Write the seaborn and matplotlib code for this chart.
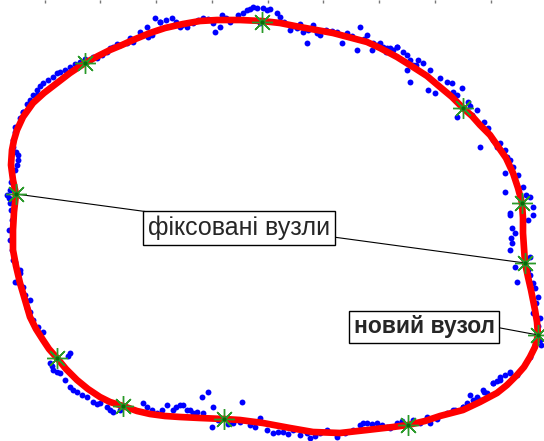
import numpy as np
import matplotlib
matplotlib.use("Agg")
import matplotlib.pyplot as plt
import seaborn as sns

# ── data (image-pixel units, y grows downward) ───────────────

# fitted closed curve, clockwise from the left knot
curve_x = [16, 13, 11, 12, 14, 17, 23, 33, 44, 57, 70, 85, 98, 110, 122,
           133, 150, 165, 183, 200, 217, 240, 262, 280, 300, 333, 367, 380,
           397, 413, 427, 440, 452, 463, 472, 480, 490, 497, 506, 513, 518,
           522, 523, 523, 525, 528, 531, 535, 537, 538, 535, 530, 524, 517,
           507, 497, 480, 463, 440, 425, 408, 393, 367, 340, 313, 290, 263,
           240, 224, 200, 180, 165, 150, 137, 123, 110, 100, 88, 77, 66, 57,
           49, 43, 36, 30, 25, 20, 16, 13, 13, 14, 16]
curve_y = [194, 180, 165, 150, 140, 130, 117, 103, 93, 83, 73, 63, 56, 50, 45,
           40, 33, 28, 24, 21, 20, 20, 21, 23, 27, 33, 42, 48,
           57, 67, 76, 87, 97, 108, 116, 125, 135, 145, 158, 173, 188,
           203, 218, 233, 263, 277, 290, 310, 322, 335, 347, 357, 367, 375,
           385, 393, 402, 410, 416, 421, 425, 427, 430, 433, 432, 428, 423,
           420, 419, 418, 417, 416, 414, 411, 406, 402, 397, 389, 380, 369, 358,
           349, 340, 329, 317, 300, 283, 266, 250, 230, 212, 194]

# knots (fixed + the new one)
knot_x = [85, 262, 463, 522, 525, 538, 408, 224, 123, 57, 16]
knot_y = [63, 22, 108, 203, 263, 335, 425, 419, 406, 358, 194]

# measured contour points
blue_pts = [
    # top
    (155, 18), (160, 22), (172, 18), (182, 25), (187, 27), (193, 23), (203, 18),
    (213, 23), (215, 32), (220, 27), (222, 15), (230, 22), (238, 15), (247, 10),
    (253, 7), (263, 8), (270, 9), (277, 13), (280, 17), (260, 23), (290, 30),
    (297, 28), (303, 32), (313, 25), (317, 33), (320, 35), (307, 43), (337, 32),
    (342, 43), (347, 33), (360, 27), (367, 35), (357, 50), (373, 43), (380, 43),
    (383, 47), (372, 50), (390, 48), (397, 47), (152, 35),
    (166, 20), (176, 22), (198, 20), (208, 19), (226, 18), (243, 13), (250, 9),
    (257, 8), (267, 10), (284, 22), (293, 26), (300, 24), (308, 30), (326, 30),
    (332, 31), (352, 36), (364, 39), (377, 45), (386, 52), (393, 50),
    # top-left
    (147, 27), (148, 37), (133, 42), (127, 43), (113, 47), (107, 52), (97, 58),
    (80, 62), (70, 67), (60, 72), (53, 77), (43, 83), (37, 90), (30, 100),
    (23, 112), (17, 127), (13, 140), (180, 27), (187, 23), (160, 22),
    (120, 45), (102, 55), (90, 60), (65, 70),
    (140, 32), (130, 38), (117, 44), (110, 48), (93, 57), (85, 59), (75, 64),
    (57, 73), (48, 80), (40, 86), (33, 95), (27, 104), (20, 118), (15, 132),
    # left
    (37, 95), (30, 103), (23, 112), (15, 127), (13, 147), (18, 160), (15, 170),
    (10, 190), (7, 195), (10, 203), (12, 220), (9, 230), (12, 250), (20, 270),
    (17, 282), (23, 287), (18, 155), (11, 182),
    (16, 152), (17, 165), (9, 198), (11, 210), (10, 240), (15, 262),
    # bottom-left
    (13, 260), (20, 273), (15, 282), (30, 300), (27, 308), (33, 320), (43, 332),
    (50, 363), (53, 370), (60, 373), (65, 380), (70, 387), (77, 392), (87, 397),
    (93, 402), (100, 403), (107, 407), (113, 412), (70, 353), (68, 356),
    (143, 403), (147, 407), (157, 413), (167, 405), (173, 410), (180, 405),
    (187, 410), (193, 413), (82, 395), (120, 410),
    (25, 295), (30, 312), (38, 327), (52, 366), (57, 372), (73, 390),
    (97, 404), (110, 410), (152, 410), (162, 410), (176, 407),
    # bottom
    (183, 405), (190, 410), (197, 412), (203, 413), (208, 392), (202, 397),
    (213, 407), (242, 402), (212, 427), (233, 423), (260, 418), (267, 430),
    (273, 433), (283, 432), (293, 430), (307, 433), (310, 438), (320, 433),
    (327, 430), (337, 435), (353, 430), (360, 425), (367, 423), (377, 423),
    (387, 427), (397, 423), (413, 420), (427, 417), (250, 425), (300, 435),
    (218, 420), (228, 424), (240, 422), (255, 427), (278, 432), (288, 434),
    (315, 436), (345, 433), (372, 424), (382, 425), (402, 421),
    # bottom-right
    (337, 437), (363, 423), (390, 428), (420, 423), (430, 423), (447, 413),
    (463, 407), (470, 395), (477, 397), (487, 393), (493, 383), (500, 377),
    (510, 372), (517, 375), (480, 400),
    (437, 419), (455, 410), (467, 403), (484, 392), (497, 381), (505, 375),
    # right
    (510, 215), (515, 233), (512, 243), (510, 250), (528, 220), (533, 207),
    (530, 257), (515, 267), (517, 282), (535, 288), (538, 297), (533, 313),
    (537, 333), (540, 340), (530, 357), (510, 373), (500, 380), (493, 383),
    (483, 390), (473, 400), (463, 407), (453, 410), (528, 270), (540, 318),
    (512, 228), (511, 238), (530, 275), (533, 283), (536, 303), (538, 326),
    (541, 345),
    # right-upper
    (387, 48), (397, 47), (407, 55), (407, 70), (413, 65), (423, 63), (410, 82),
    (430, 70), (447, 82), (452, 83), (428, 90), (435, 93), (453, 92), (462, 88),
    (457, 117), (477, 110), (468, 102), (480, 147), (493, 140), (497, 147),
    (505, 150), (507, 157), (513, 167), (505, 173), (523, 187), (505, 192),
    (530, 197), (533, 215), (510, 213), (488, 128), (472, 115), (418, 60),
    (403, 52), (410, 60), (416, 65), (440, 78), (457, 95), (470, 106),
    (484, 122), (500, 143), (510, 160), (518, 175), (526, 195),
]

xticks = [45, 100, 156, 212, 268, 323, 379, 435, 491]

label_fixed = "фіксовані вузли"
label_new = "новий вузол"

# ── plot ─────────────────────────────────────────────────────

sns.set_style("white")
plt.rcParams["font.family"] = ["Liberation Sans", "DejaVu Sans"]

fig = plt.figure(figsize=(5.44, 4.41), dpi=100)
ax = fig.add_axes([0, 0, 1, 1])

blue = np.array(blue_pts)
sns.scatterplot(x=blue[:, 0], y=blue[:, 1], ax=ax, color="#0000ff",
                s=18, linewidth=0, zorder=2)

sns.lineplot(x=curve_x, y=curve_y, ax=ax, sort=False, estimator=None,
             color="#ff0000", linewidth=4.8, zorder=3)
for ln in ax.get_lines():
    ln.set_solid_joinstyle("round")
    ln.set_solid_capstyle("round")

# leader lines (left knot -> right knot, new knot)
ax.plot([knot_x[10], knot_x[4]], [knot_y[10], knot_y[4]],
        color="black", linewidth=0.8, zorder=4)
ax.plot([495, knot_x[5]], [327, knot_y[5]],
        color="black", linewidth=0.8, zorder=4)

ax.plot(knot_x, knot_y, linestyle="none", marker=(8, 2, 0),
        markersize=15, markeredgewidth=1.0, color="#2a9a2a", zorder=5)
ax.plot(knot_x, knot_y, linestyle="none", marker="o",
        markersize=3, markeredgewidth=0, color="#0a6a0a", zorder=5)

box = dict(boxstyle="square,pad=0.2", facecolor="white",
           edgecolor="black", linewidth=1)
ax.text(239, 228, label_fixed, fontsize=18, ha="center", va="center",
        bbox=box, zorder=6)
ax.text(424, 327, label_new, fontsize=16.5, fontweight="bold",
        ha="center", va="center", bbox=box, zorder=6)

ax.set_xlim(0, 544)
ax.set_ylim(441, 0)
ax.xaxis.tick_top()
ax.set_xticks(xticks)
ax.set_yticks([])
ax.tick_params(axis="x", direction="in", length=2, width=1,
               colors="#777777", labeltop=False, labelbottom=False)
for s in ax.spines.values():
    s.set_visible(False)
ax.set_xlabel("")
ax.set_ylabel("")

fig.savefig("out.png", dpi=100)
plt.close(fig)
